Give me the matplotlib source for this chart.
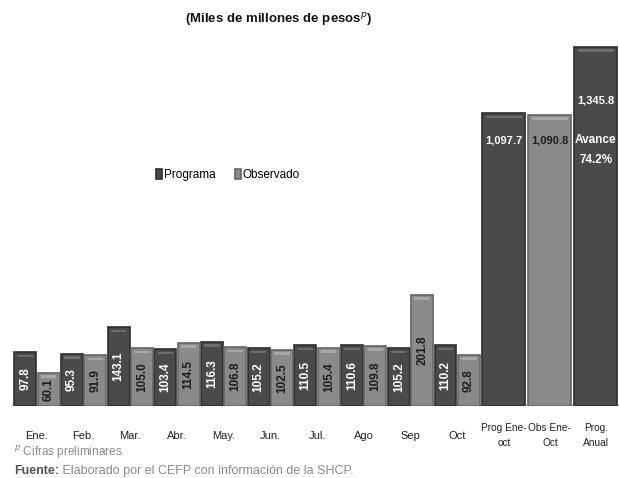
import matplotlib
matplotlib.use("Agg")
import matplotlib.pyplot as plt
import numpy as np

# ---------------------------------------------------------------------------
# Datos (miles de millones de pesos)
# ---------------------------------------------------------------------------
meses = ["Ene.", "Feb.", "Mar.", "Abr.", "May.", "Jun.", "Jul.", "Ago", "Sep", "Oct"]
programa = [97.8, 95.3, 143.1, 103.4, 116.3, 105.2, 110.5, 110.6, 105.2, 110.2]
observado = [60.1, 91.9, 105.0, 114.5, 106.8, 102.5, 105.4, 109.8, 201.8, 92.8]

acum_labels = ["Prog Ene-\noct", "Obs Ene-\nOct", "Prog.\nAnual"]
acum_valores = [1097.7, 1090.8, 1345.8]
avance = 74.2

COR_PROG = "#4a4a4a"
COR_PROG_BORDE = "#2e2e2e"
COR_OBS = "#8a8a8a"
COR_OBS_BORDE = "#666666"
COR_BRILLO_PROG = "#6e6e6e"
COR_BRILLO_OBS = "#a8a8a8"

plt.rcParams["font.family"] = ["Liberation Sans", "DejaVu Sans"]

fig = plt.figure(figsize=(6.19, 4.78), dpi=100)
ax = fig.add_axes([12 / 619, 72 / 478, 607 / 619, 366 / 478])
ax2 = ax.twinx()

ax.set_xlim(-0.566, 25.43)
ax.set_ylim(0, 665)
ax2.set_ylim(0, 1372)

for a in (ax, ax2):
    for s in a.spines.values():
        s.set_visible(False)
    a.set_yticks([])
    a.set_xticks([])

# barras mensuales
x = np.arange(len(meses))
xp = 2 * x
xo = 2 * x + 1
ancho = 0.94
bp = ax.bar(xp, programa, ancho, color=COR_PROG, edgecolor=COR_PROG_BORDE, linewidth=1.2,
            label="Programa", zorder=3)
bo = ax.bar(xo, observado, ancho, color=COR_OBS, edgecolor=COR_OBS_BORDE, linewidth=1.2,
            label="Observado", zorder=3)
# brillo superior (efecto biselado)
ax.bar(xp, [4.5] * len(x), ancho * 0.7, bottom=np.array(programa) - 9,
       color=COR_BRILLO_PROG, linewidth=0, zorder=4)
ax.bar(xo, [4.5] * len(x), ancho * 0.7, bottom=np.array(observado) - 9,
       color=COR_BRILLO_OBS, linewidth=0, zorder=4)

for xi, v in zip(xp, programa):
    ax.text(xi, v / 2, f"{v:.1f}", rotation=90, ha="center", va="center",
            color="white", fontsize=8.5, weight="bold", zorder=5)
for xi, v in zip(xo, observado):
    ax.text(xi, v / 2, f"{v:.1f}", rotation=90, ha="center", va="center",
            color="#1e1e1e", fontsize=8.5, weight="bold", zorder=5)

# barras acumuladas (otra escala)
xa = [20.5, 22.47, 24.44]
ancho_a = 1.84
colores_a = [COR_PROG, COR_OBS, COR_PROG]
bordes_a = [COR_PROG_BORDE, COR_OBS_BORDE, COR_PROG_BORDE]
brillos_a = [COR_BRILLO_PROG, COR_BRILLO_OBS, COR_BRILLO_PROG]
ax2.bar(xa, acum_valores, ancho_a, color=colores_a, edgecolor=bordes_a, linewidth=1.2, zorder=3)
ax2.bar(xa, [9] * 3, ancho_a * 0.85, bottom=np.array(acum_valores) - 18,
        color=brillos_a, linewidth=0, zorder=4)

offsets = [-27, -25, -54]
colores_txt = ["white", "#1e1e1e", "white"]
for xi, v, off, c in zip(xa, acum_valores, offsets, colores_txt):
    ax2.annotate(f"{v:,.1f}", xy=(xi, v), xytext=(0, off), textcoords="offset pixels",
                 ha="center", va="center", color=c, fontsize=8, weight="bold", zorder=5)
ax2.annotate("Avance", xy=(xa[2], acum_valores[2]), xytext=(0, -93), textcoords="offset pixels",
             ha="center", va="center", color="white", fontsize=8.5, weight="bold", zorder=5)
ax2.annotate(f"{avance:.1f}%", xy=(xa[2], acum_valores[2]), xytext=(0, -113),
             textcoords="offset pixels", ha="center", va="center", color="white",
             fontsize=8.5, weight="bold", zorder=5)

# línea base
ax.axhline(0, color="#c8c8c8", linewidth=3, zorder=2)

# etiquetas del eje x
tr = ax.get_xaxis_transform()
for xi, m in zip(x, meses):
    ax.text(2 * xi + 0.5, -0.081, m, transform=tr, ha="center", va="center",
            fontsize=8, color="#222222")
for xi, lab in zip(xa, acum_labels):
    ax.text(xi, -0.081, lab, transform=tr, ha="center", va="center",
            fontsize=7.3, color="#222222", linespacing=1.6)

# leyenda
fig.legend(handles=[bp, bo], loc="center", bbox_to_anchor=(228 / 619, 1 - 175 / 478),
           ncol=2, frameon=False, fontsize=8.5, handlelength=0.5, handleheight=0.9,
           handletextpad=0.2, columnspacing=1.6)

# título
fig.text(279 / 619, 1 - 20 / 478, "(Miles de millones de pesos$^{p}$)", ha="center", va="center",
         fontsize=9.5, weight="bold", color="#111111")

# notas
fig.text(14 / 619, 1 - 452 / 478, "$^{p}$ Cifras preliminares.", ha="left", va="center",
         fontsize=8.5, color="#8a8a8a")
t_f = fig.text(14 / 619, 1 - 471 / 478, "Fuente:", ha="left", va="center",
               fontsize=9, color="#555555", weight="bold")
plt.annotate(" Elaborado por el CEFP con información de la SHCP.", xy=(1, 0.5),
             xycoords=t_f, ha="left", va="center", fontsize=9, color="#8a8a8a",
             annotation_clip=False)

fig.savefig("out.png", dpi=100, facecolor="white")
plt.close(fig)
